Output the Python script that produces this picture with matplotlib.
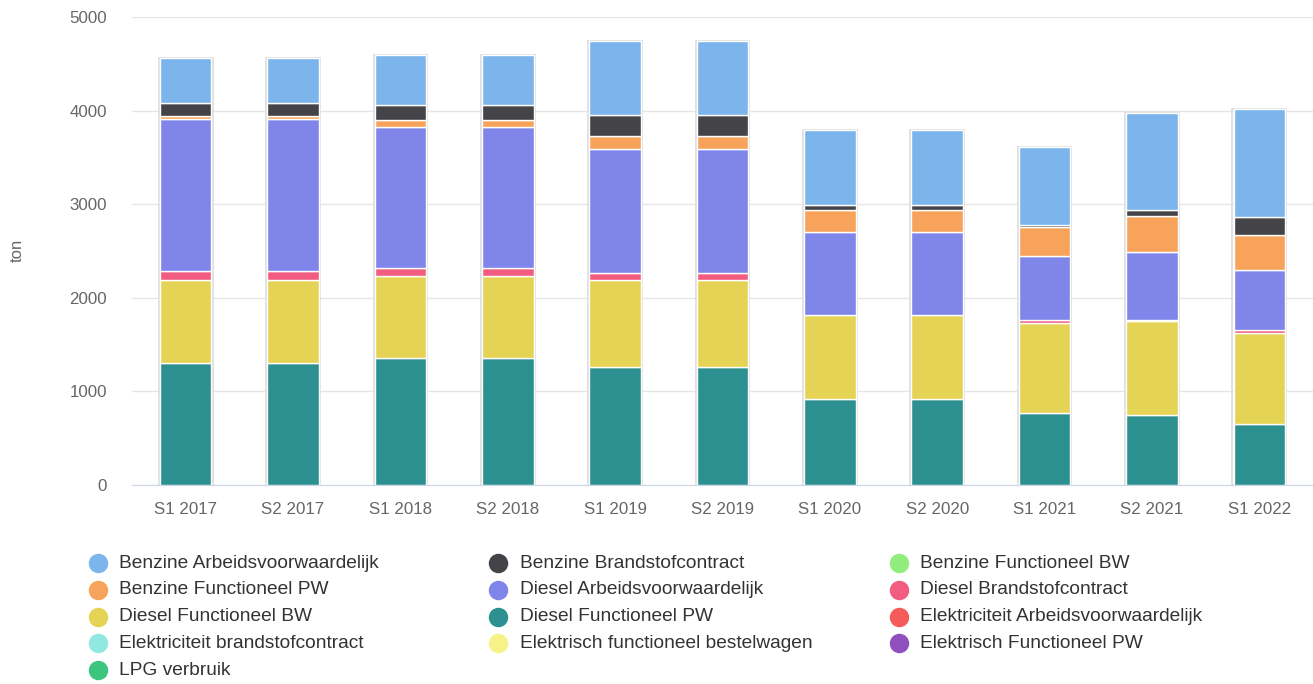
"""Brandstofverbruik per halfjaar - gestapelde kolommen"""

import numpy as np
import matplotlib
matplotlib.use("Agg")
import matplotlib.pyplot as plt
from matplotlib.lines import Line2D

plt.rcParams['font.family'] = ['Liberation Sans', 'DejaVu Sans']

W, H = 1313, 684

categories = ['S1 2017', 'S2 2017', 'S1 2018', 'S2 2018', 'S1 2019', 'S2 2019',
              'S1 2020', 'S2 2020', 'S1 2021', 'S2 2021', 'S1 2022']

# series in legend order (first one sits on top of the stack)
series_names = [
    'Benzine Arbeidsvoorwaardelijk', 'Benzine Brandstofcontract', 'Benzine Functioneel BW',
    'Benzine Functioneel PW', 'Diesel Arbeidsvoorwaardelijk', 'Diesel Brandstofcontract',
    'Diesel Functioneel BW', 'Diesel Functioneel PW', 'Elektriciteit Arbeidsvoorwaardelijk',
    'Elektriciteit brandstofcontract', 'Elektrisch functioneel bestelwagen', 'Elektrisch Functioneel PW',
    'LPG verbruik',
]

benzine_arbeids = [485, 485, 530, 530, 790, 790, 805, 805, 830, 1040, 1160]
benzine_brandstof = [140, 140, 160, 160, 225, 225, 50, 50, 25, 65, 185]
benzine_func_bw = [0, 0, 0, 0, 0, 0, 0, 0, 0, 0, 0]
benzine_func_pw = [30, 30, 70, 70, 130, 130, 240, 240, 305, 380, 375]
diesel_arbeids = [1620, 1620, 1510, 1510, 1335, 1335, 880, 880, 685, 730, 645]
diesel_brandstof = [100, 100, 90, 90, 65, 65, 0, 0, 30, 8, 35]
diesel_func_bw = [890, 890, 870, 870, 935, 935, 900, 900, 965, 1005, 970]
diesel_func_pw = [1300, 1300, 1360, 1360, 1260, 1260, 920, 920, 770, 750, 650]
elek_arbeids = [0, 0, 0, 0, 0, 0, 0, 0, 0, 0, 0]
elek_brandstof = [0, 0, 0, 0, 0, 0, 0, 0, 0, 0, 0]
elek_func_bw = [0, 0, 0, 0, 0, 0, 0, 0, 0, 0, 0]
elek_func_pw = [0, 0, 0, 0, 0, 0, 0, 0, 0, 0, 0]
lpg = [0, 0, 0, 0, 0, 0, 0, 0, 0, 0, 0]

values = [benzine_arbeids, benzine_brandstof, benzine_func_bw, benzine_func_pw,
          diesel_arbeids, diesel_brandstof, diesel_func_bw, diesel_func_pw,
          elek_arbeids, elek_brandstof, elek_func_bw, elek_func_pw, lpg]

colors = ['#7cb5ec', '#434348', '#90ed7d', '#f7a35c', '#8085e9', '#f15c80', '#e4d354',
          '#2b908f', '#f45b5b', '#91e8e1', '#f5f287', '#9150c0', '#3dc47e']

fig = plt.figure(figsize=(W / 100, H / 100), dpi=100)
ax = fig.add_axes([132 / W, 1 - 485 / H, (W - 132) / W, (485 - 17) / H])

x = np.arange(len(categories))
bw = 0.48

totals = np.sum(np.array(values), axis=0)
# faint outline round every column
ax.bar(x, totals, width=bw + 0.02, facecolor='none', edgecolor='#dcdcdc', lw=1.2, zorder=2)

# stack from the bottom: last series first
bottom = np.zeros(len(categories))
for name, vals, col in reversed(list(zip(series_names, values, colors))):
    vals = np.array(vals, dtype=float)
    mask = vals > 0
    if mask.any():
        ax.bar(x[mask], vals[mask], width=bw, bottom=bottom[mask], color=col,
               edgecolor='white', lw=1, zorder=3)
    bottom += vals

ax.set_xlim(-0.5, len(categories) - 0.5)
ax.set_ylim(0, 5000)
ax.set_yticks(np.arange(0, 5001, 1000))
ax.set_xticks(x)
ax.set_xticklabels(categories)
ax.grid(axis='y', color='#e6e6e6', lw=1, zorder=0)
ax.set_axisbelow(True)
for s in ['left', 'right', 'top']:
    ax.spines[s].set_visible(False)
ax.spines['bottom'].set_color('#ccd6eb')
ax.tick_params(axis='both', length=0, labelsize=12.2, labelcolor='#666666')
ax.tick_params(axis='x', pad=12)
ax.tick_params(axis='y', pad=18)

fig.text(17 / W, 1 - 250 / H, 'ton', rotation=90, ha='center', va='center',
         fontsize=12, color='#666666')

# legend, row by row in three columns
mark_x = [98, 498, 899]
text_x = [119, 520, 920]
row_y = 563
row_step = 26.8
for i, (name, col) in enumerate(zip(series_names, colors)):
    c, r = i % 3, i // 3
    yy = 1 - (row_y + r * row_step) / H
    fig.add_artist(Line2D([mark_x[c] / W], [yy], marker='o', ms=13, color=col,
                          mec=col, transform=fig.transFigure))
    fig.text(text_x[c] / W, yy, name, ha='left', va='center', fontsize=13.8, color='#333333')

fig.savefig('out.png', dpi=100)
